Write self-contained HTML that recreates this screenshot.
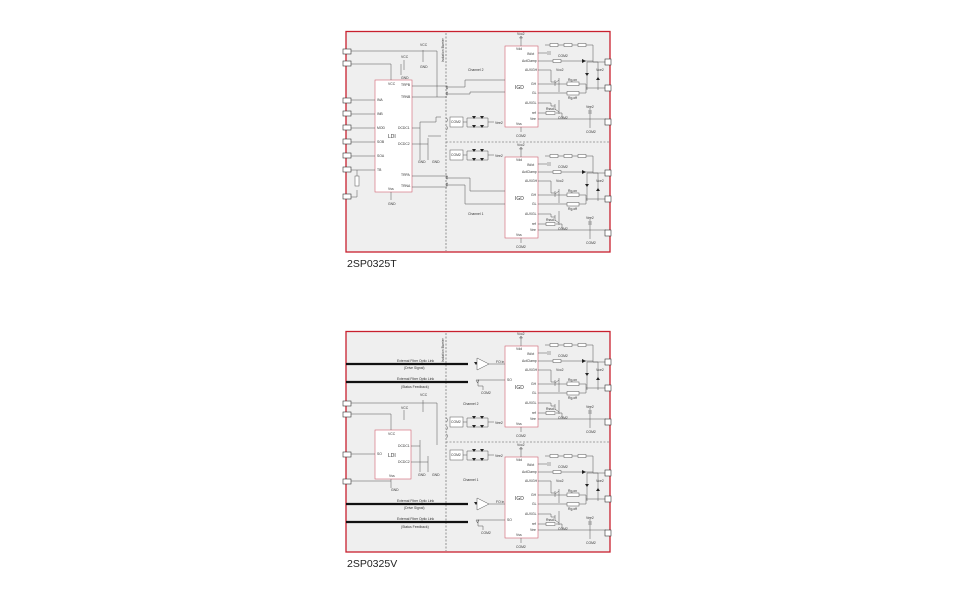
<!DOCTYPE html>
<html><head><meta charset="utf-8"><style>
html,body{margin:0;padding:0;background:#fff;width:960px;height:600px;overflow:hidden}
svg{display:block}
text{font-family:"Liberation Sans",sans-serif;fill:#333}
.t{font-size:3.4px}
.l{fill:none;stroke:#555;stroke-width:0.5}
.r{fill:#fff;stroke:#555;stroke-width:0.5}
.ic{fill:#fff;stroke:#d06070;stroke-width:0.6}
.d{fill:#222;stroke:none}
</style></head><body>
<svg width="960" height="600" viewBox="0 0 960 600" xmlns="http://www.w3.org/2000/svg">
<rect x="346" y="31.5" width="264" height="220.5" fill="#efefef" stroke="#c8202e" stroke-width="1.3"/>
<rect x="346" y="331.5" width="264" height="220.5" fill="#efefef" stroke="#c8202e" stroke-width="1.3"/>
<text x="347" y="267" style="font-size:10.5px;fill:#222">2SP0325T</text>
<text x="347" y="567" style="font-size:10.5px;fill:#222">2SP0325V</text>

<g stroke="#555" stroke-width="0.6" stroke-dasharray="2,1.5">
<line x1="446" y1="33" x2="446" y2="251"/>
<line x1="446" y1="142" x2="609" y2="142"/>
<line x1="446" y1="333" x2="446" y2="551"/>
<line x1="446" y1="442" x2="609" y2="442"/>
</g>
<text class="t" transform="translate(444,62) rotate(-90)">Isolation Barrier</text>
<text class="t" transform="translate(444,362) rotate(-90)">Isolation Barrier</text>

<g id="ch">
<rect class="ic" x="505" y="46" width="33" height="81"/>
<text x="515" y="89" style="font-size:5px">IGD</text>
<text class="t" x="516" y="50">Vdd</text>
<text class="t" x="516" y="125">Vss</text>
<text class="t" x="527" y="55">IN/ot</text>
<text class="t" x="522" y="62">ActClamp</text>
<text class="t" x="525" y="71">AUXGH</text>
<text class="t" x="531" y="85">GH</text>
<text class="t" x="532" y="94">GL</text>
<text class="t" x="525" y="104">AUXGL</text>
<text class="t" x="532" y="114">ref</text>
<text class="t" x="530" y="120">Vee</text>
<path class="l" d="M521 46V37M538 53H547M538 61H586M538 70H551V82H555M538 84H567M579 84H586V88H606M538 93H567M579 93H586V88M538 103H551V106H555M538 113H546M556 113H562V118M538 119H606M545 45H593V61M586 61H593V62H606M587 62V90M598 62V90M587 62H598M559 78V92M559 100V114M590 108V119M590 119V128M521 127V132"/>
<path class="l" d="M521 36l-1.5 2h3z"/>
<text class="t" x="517" y="35">Vcc2</text>
<text class="t" x="516" y="137">COM2</text>
<rect class="r" x="550" y="43.5" width="8" height="3"/>
<rect class="r" x="564" y="43.5" width="8" height="3"/>
<rect class="r" x="578" y="43.5" width="8" height="3"/>
<rect class="r" x="553" y="59.5" width="8" height="3"/>
<rect class="r" x="567" y="82" width="12" height="3.5"/>
<rect class="r" x="567" y="91.5" width="12" height="3.5"/>
<rect class="r" x="546" y="111.5" width="9" height="3"/>
<text class="t" x="568" y="81">Rg,on</text>
<text class="t" x="568" y="99">Rg,off</text>
<text class="t" x="546" y="110">Rssd</text>
<text class="t" x="558" y="57">COM2</text>
<text class="t" x="556" y="71">Vcc2</text>
<text class="t" x="596" y="71">Vce2</text>
<text class="t" x="586" y="108">Vee2</text>
<text class="t" x="586" y="133">COM2</text>
<text class="t" x="558" y="119">COM2</text>
<path class="d" d="M582 59l4 2-4 2zM585 73h4l-2 3zM596 80h4l-2-3z"/>
<path class="l" d="M555 80v6M555 104v6M559 80l-4 3M559 112l-4-3M548 51v4M550 51v4M588 111h4M588 113h4"/>
<g stroke="#333" stroke-width="0.6" fill="#fff">
<rect x="605" y="59" width="6" height="6"/><rect x="605" y="85" width="6" height="6"/><rect x="605" y="119" width="6" height="6"/>
</g>
</g>
<g transform="translate(0,111)"><use href="#ch"/></g>
<g transform="translate(0,300)"><use href="#ch"/></g>
<g transform="translate(0,411)"><use href="#ch"/></g>

<g id="br">
<rect class="r" x="450" y="117" width="13" height="10" fill="none"/>
<text class="t" x="451" y="123">COM2</text>
<path class="l" d="M463 122H467M467 118H488M467 127H488M467 118V127M488 118V127M488 122H494"/>
<path class="d" d="M472 116h4l-2 3zM480 116h4l-2 3zM472 125h4l-2 3zM480 125h4l-2 3z"/>
<text class="t" x="495" y="124">Vee2</text>
</g>
<g transform="translate(0,33)"><use href="#br"/></g>
<g transform="translate(0,300)"><use href="#br"/></g>
<g transform="translate(0,333)"><use href="#br"/></g>
<text class="t" x="468" y="71">Channel 2</text>
<text class="t" x="468" y="215">Channel 1</text>
<text class="t" x="463" y="405">Channel 2</text>
<text class="t" x="463" y="481">Channel 1</text>

<g stroke="#333" stroke-width="0.6" fill="#fff">
<rect x="343" y="49" width="8" height="5"/><rect x="343" y="61" width="8" height="5"/>
<rect x="343" y="98" width="8" height="5"/><rect x="343" y="111" width="8" height="5"/><rect x="343" y="125" width="8" height="5"/>
<rect x="343" y="139" width="8" height="5"/><rect x="343" y="153" width="8" height="5"/><rect x="343" y="167" width="8" height="5"/>
<rect x="343" y="194" width="8" height="5"/>
</g>
<rect class="ic" x="375" y="80" width="37" height="112"/>
<text x="388" y="138" style="font-size:5px">LDI</text>
<g class="t">
<text x="388" y="85">VCC</text><text x="401" y="86">TRPB</text><text x="401" y="98">TRNB</text>
<text x="377" y="101">INA</text><text x="377" y="115">INB</text><text x="377" y="129">MOD</text>
<text x="377" y="143">SOB</text><text x="377" y="157">SOA</text><text x="377" y="171">TB</text>
<text x="398" y="129">DCDC1</text><text x="398" y="145">DCDC2</text>
<text x="401" y="176">TRPA</text><text x="401" y="187">TRNA</text><text x="388" y="190">Vss</text>
</g>
<path class="l" d="M351 51H437V97M351 64H391V80M351 100H375M351 114H375M351 128H375M351 142H375M351 156H375M351 170H375M357 170V185M357 190V197H351M412 86H447M412 97H447M412 176H447M412 187H447M412 128H420M412 144H428M420 122V160M428 138V160M420 122H436V117H441M428 136H441M391 192V200M404 60V70M423 50V62M401 64V75"/>
<rect class="r" x="355" y="176" width="4" height="10"/>
<g class="l" stroke-width="0.6"><path d="M446 86c2 0 2 3 0 3M446 92c2 0 2 3 0 3M448 86c-2 0 -2 3 0 3M448 92c-2 0-2 3 0 3M446 176c2 0 2 3 0 3M446 183c2 0 2 3 0 3M448 176c-2 0-2 3 0 3M448 183c-2 0-2 3 0 3M446 118c2 0 2 4 0 4M446 126c2 0 2 4 0 4"/></g>
<path class="l" d="M448 87H465V80H505M448 94H470V92H505M448 178H470V191H505M448 185H465V204H505"/>
<g class="t"><text x="401" y="58">VCC</text><text x="420" y="46">VCC</text><text x="401" y="79">GND</text><text x="420" y="68">GND</text><text x="388" y="205">GND</text><text x="418" y="163">GND</text><text x="432" y="163">GND</text></g>

<g stroke="#111" stroke-width="2.2">
<line x1="346" y1="364" x2="468" y2="364"/><line x1="346" y1="382" x2="468" y2="382"/>
<line x1="346" y1="504" x2="468" y2="504"/><line x1="346" y1="522" x2="468" y2="522"/>
</g>
<g class="t">
<text x="397" y="362">External Fiber Optic Link</text><text x="404" y="369">(Drive Signal)</text>
<text x="397" y="380">External Fiber Optic Link</text><text x="401" y="388">(Status Feedback)</text>
<text x="397" y="502">External Fiber Optic Link</text><text x="404" y="509">(Drive Signal)</text>
<text x="397" y="520">External Fiber Optic Link</text><text x="401" y="528">(Status Feedback)</text>
</g>
<g id="fo">
<path class="d" d="M474 362h4l-2 3z"/><path class="r" d="M477 358v12l12-6z"/>
<path class="l" d="M489 364H505M476 380l1.5 3 1.5-3zM478 382V380H505M478 382V386H483V390"/>
<text class="t" x="496" y="363">FO in</text><text class="t" x="507" y="381">SO</text><text class="t" x="481" y="394">COM2</text>
</g>
<g transform="translate(0,140)"><use href="#fo"/></g>
<g stroke="#333" stroke-width="0.6" fill="#fff">
<rect x="343" y="401" width="8" height="5"/><rect x="343" y="412" width="8" height="5"/>
<rect x="343" y="452" width="8" height="5"/><rect x="343" y="479" width="8" height="5"/>
</g>
<rect class="ic" x="375" y="430" width="36" height="49"/>
<text x="388" y="457" style="font-size:5px">LDI</text>
<g class="t"><text x="388" y="435">VCC</text><text x="398" y="447">DCDC1</text><text x="398" y="463">DCDC2</text><text x="377" y="455">SO</text><text x="389" y="477">Vss</text></g>
<path class="l" d="M351 403H437V445M351 414H391V430M351 454H375M351 481H391V479M411 446H420M411 462H428M420 440V472M428 456V472M391 481V488M404 410V420M423 400V412"/>
<g class="t"><text x="401" y="409">VCC</text><text x="420" y="396">VCC</text><text x="391" y="491">GND</text><text x="418" y="476">GND</text><text x="432" y="476">GND</text></g>
<g class="l"><path d="M446 418c2 0 2 4 0 4M446 426c2 0 2 4 0 4M446 434c2 0 2 4 0 4"/></g>
</svg>
</body></html>
